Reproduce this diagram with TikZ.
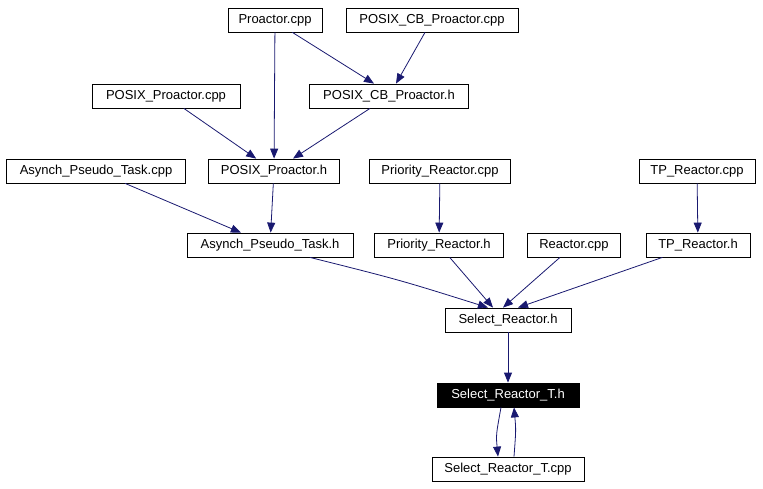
\documentclass[tikz,border=0pt]{standalone}
\usepackage{fontspec}
\setmainfont{Liberation Sans}
\usetikzlibrary{arrows.meta}
\definecolor{edge}{RGB}{25,25,112}
\begin{document}
\begin{tikzpicture}[x=1pt,y=-1pt,
  box/.style={draw=black,fill=white,minimum height=24pt,inner xsep=4pt,font=\fontsize{13}{15}\selectfont,line width=0.8pt},
  dark/.style={box,fill=black,text=white},
  arr/.style={draw=edge,line width=0.8pt,-{Triangle[length=10pt,width=8pt,fill=edge]}}]
\useasboundingbox (0,0) rectangle (763,488);
\node[box,minimum width=94pt] (pc) at (275,20) {Proactor.cpp};
\node[box,minimum width=172pt] (pcbc) at (432,20) {POSIX\_CB\_Proactor.cpp};
\node[box,minimum width=148pt] (ppc) at (166,96) {POSIX\_Proactor.cpp};
\node[box,minimum width=159pt] (pcbh) at (389,96) {POSIX\_CB\_Proactor.h};
\node[box,minimum width=179pt] (aptc) at (96,171) {Asynch\_Pseudo\_Task.cpp};
\node[box,minimum width=131pt] (pph) at (274,171) {POSIX\_Proactor.h};
\node[box,minimum width=141pt] (prc) at (440,171) {Priority\_Reactor.cpp};
\node[box,minimum width=116pt] (tpc) at (697,171) {TP\_Reactor.cpp};
\node[box,minimum width=166pt] (apth) at (270,245) {Asynch\_Pseudo\_Task.h};
\node[box,minimum width=129pt] (prh) at (439,245) {Priority\_Reactor.h};
\node[box,minimum width=93pt] (rc) at (574,245) {Reactor.cpp};
\node[box,minimum width=104pt] (tph) at (698,245) {TP\_Reactor.h};
\node[box,minimum width=126pt] (srh) at (508,320) {Select\_Reactor.h};
\node[dark,minimum width=142pt] (srth) at (508,395) {Select\_Reactor\_T.h};
\node[box,minimum width=152pt] (srtc) at (508,469) {Select\_Reactor\_T.cpp};
\draw[arr] (pc) -- (pph);
\draw[arr] (pc.south east) ++(-30,0) -- ([xshift=-15pt]pcbh.north);
\draw[arr] (pcbc) -- (pcbh);
\draw[arr] (ppc) -- (pph);
\draw[arr] (pcbh) -- (pph);
\draw[arr] (aptc) -- (apth);
\draw[arr] (pph) -- (apth);
\draw[arr] (prc) -- (prh);
\draw[arr] (tpc) -- (tph);
\draw[arr] ([xshift=40pt]apth.south) .. controls (400,280) .. ([xshift=-20pt]srh.north);
\draw[arr] (prh) -- ([xshift=-15pt]srh.north);
\draw[arr] (rc) -- ([xshift=-5pt]srh.north);
\draw[arr] (tph) -- ([xshift=10pt]srh.north);
\draw[arr] (srh) -- (srth);
\draw[arr] ([xshift=-7pt]srth.south) .. controls (496,435) .. ([xshift=-10pt]srtc.north);
\draw[arr] ([xshift=6pt]srtc.north) .. controls (516,430) .. ([xshift=6pt]srth.south);
\end{tikzpicture}
\end{document}
